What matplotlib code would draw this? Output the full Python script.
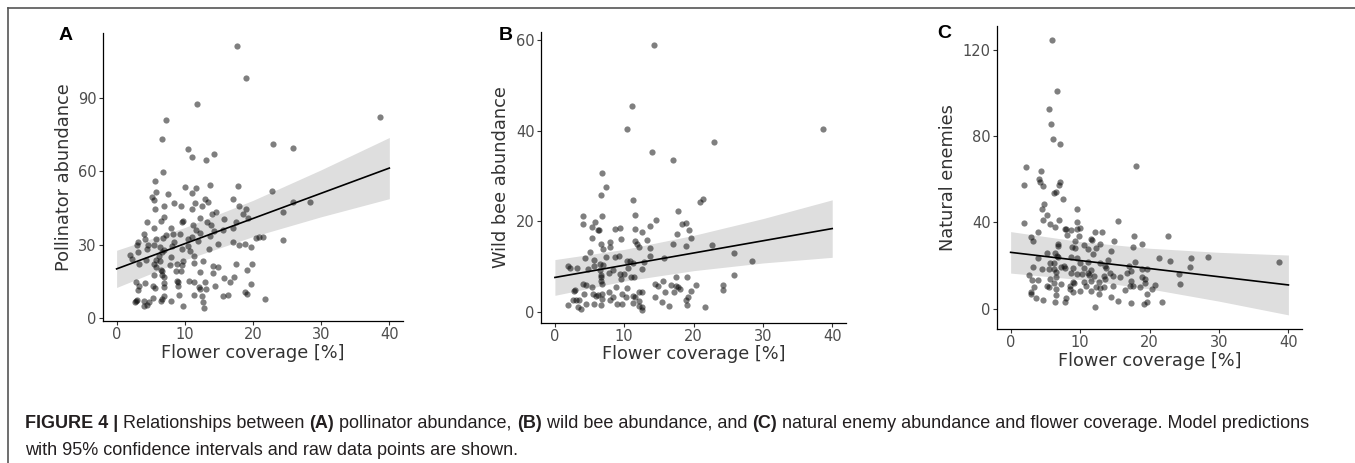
import matplotlib
matplotlib.use("Agg")
import matplotlib.pyplot as plt
from matplotlib.lines import Line2D

# ---- data ----
# (A) pollinator abundance
a_x = [17.6, 18.95, 11.8, 7.3, 38.7, 6.7, 23.0, 25.9, 10.4, 14.3, 11.1, 13.1, 6.8, 5.7,
       13.7, 17.8, 10.1, 11.6, 5.8, 22.8, 11.0, 7.5, 5.2, 12.9, 17.0, 5.5, 8.4, 11.5, 13.4,
       25.9, 28.4, 18.0, 6.9, 5.6, 9.4, 11.1, 19.0, 12.5, 14.6, 14.0, 24.4, 18.5, 4.4, 6.5,
       9.6, 9.8, 12.2, 15.7, 19.3, 6.9, 13.3, 17.5, 8.0, 5.5, 13.8, 17.1, 11.2, 4.0, 8.2,
       9.3, 11.6, 12.3, 15.6, 14.3, 13.7, 11.0, 4.1, 7.3, 3.2, 5.8, 6.8, 10.5, 11.9, 17.1,
       20.4, 20.9, 21.5, 24.4, 14.9, 18.8, 18.0, 4.6, 3.0, 5.5, 6.3, 8.1, 9.6, 10.5, 8.4,
       19.7, 13.6, 7.0, 4.4, 3.2, 6.6, 10.8, 6.2, 2.0, 2.2, 8.0, 11.3, 5.8, 9.7, 12.6, 4.3,
       3.3, 6.4, 5.5, 7.9, 8.9, 11.4, 17.5, 19.8, 14.2, 14.8, 9.6, 6.5, 5.8, 6.7, 6.7, 8.7,
       9.4, 14.1, 12.3, 5.5, 19.1, 6.9, 17.2, 15.7, 16.7, 2.9, 4.1, 8.8, 9.0, 10.6, 11.4,
       12.9, 6.9, 19.7, 3.3, 5.4, 9.0, 12.1, 14.5, 3.1, 5.6, 6.9, 12.3, 13.1, 18.9, 19.1,
       9.2, 11.3, 12.5, 15.6, 16.4, 5.4, 6.9, 2.8, 3.0, 4.0, 6.5, 8.0, 21.8, 2.7, 4.7, 12.6,
       4.5, 4.0, 9.8, 12.8, 6.7]
a_y = [111.1, 98.2, 87.3, 81.0, 82.1, 73.1, 71.1, 69.3, 69.0, 67.0, 65.8, 64.7, 59.6, 56.1,
       54.3, 53.8, 53.5, 53.1, 51.7, 51.9, 51.1, 50.5, 49.3, 48.6, 48.7, 48.3, 47.1, 47.1, 47.5,
       47.4, 47.4, 45.8, 45.8, 44.5, 46.0, 44.7, 44.4, 46.0, 43.4, 42.6, 43.2, 42.5, 39.2, 39.6,
       39.4, 39.8, 40.9, 40.6, 40.7, 41.5, 39.1, 39.1, 36.8, 36.8, 37.9, 37.0, 38.0, 34.3, 34.4,
       34.2, 36.1, 34.7, 35.9, 35.4, 33.6, 33.2, 32.5, 33.9, 31.0, 32.3, 32.7, 32.3, 31.3, 31.0,
       32.7, 33.1, 33.0, 32.0, 30.2, 30.2, 29.7, 29.7, 30.0, 30.0, 29.0, 29.3, 28.3, 29.3, 31.0,
       28.9, 28.2, 27.9, 28.3, 27.2, 27.0, 27.6, 25.2, 25.7, 24.2, 25.1, 25.5, 23.6, 23.4, 23.4,
       23.8, 22.2, 23.4, 22.1, 21.8, 22.1, 22.5, 22.2, 22.2, 21.1, 20.7, 21.7, 19.7, 20.7, 19.3,
       17.8, 19.1, 19.3, 18.4, 18.8, 17.7, 19.5, 16.6, 16.7, 16.5, 14.8, 14.6, 14.3, 15.3, 14.6,
       15.0, 14.6, 14.6, 14.2, 14.0, 12.9, 13.3, 12.9, 12.7, 13.3, 11.6, 12.1, 12.7, 11.8, 11.8,
       10.6, 9.9, 9.4, 9.3, 9.1, 9.1, 9.5, 8.4, 9.1, 7.1, 7.2, 7.1, 7.1, 6.8, 7.8, 6.4, 6.4,
       6.4, 5.3, 4.8, 4.8, 4.1, 7.8]

# (B) wild bee abundance
b_x = [14.3, 11.1, 10.4, 38.7, 23.0, 14.0, 17.0, 6.8, 7.3, 6.6, 21.4, 20.9, 11.2, 4.1, 6.8,
       11.6, 17.8, 14.6, 5.8, 4.0, 18.9, 18.4, 13.7, 5.4, 6.2, 6.4, 9.4, 8.6, 11.5, 12.5,
       19.3, 17.6, 9.6, 5.4, 19.6, 11.6, 13.3, 6.7, 8.0, 11.8, 17.0, 22.7, 18.9, 12.1, 13.7,
       6.9, 8.0, 5.1, 9.3, 7.3, 13.7, 8.7, 4.4, 15.7, 25.9, 28.4, 10.4, 10.8, 11.3, 12.9, 5.6,
       1.9, 2.2, 3.2, 5.6, 6.5, 7.0, 4.8, 6.5, 8.4, 9.4, 9.9, 10.6, 12.5, 6.6, 6.7, 7.8, 11.0,
       11.4, 9.5, 17.5, 19.0, 6.7, 6.8, 25.8, 4.0, 4.5, 5.4, 15.6, 14.4, 14.8, 16.7, 17.4,
       17.7, 20.3, 2.9, 8.8, 10.4, 18.1, 24.3, 24.3, 19.6, 2.8, 4.2, 5.5, 6.8, 7.8, 9.7, 12.2,
       12.6, 15.9, 17.2, 6.2, 5.9, 11.3, 11.5, 14.5, 19.2, 8.4, 10.2, 6.8, 2.6, 3.1, 3.5, 8.0,
       18.9, 12.2, 15.5, 4.5, 1.9, 5.7, 6.6, 8.9, 9.7, 11.3, 19.1, 16.4, 12.1, 3.3, 21.7, 3.7,
       12.6, 12.6]
b_y = [59.0, 45.4, 40.3, 40.3, 37.6, 35.4, 33.6, 30.6, 27.6, 25.8, 25.0, 24.2, 24.7, 21.1,
       21.1, 21.4, 22.2, 20.2, 19.9, 19.4, 19.7, 19.4, 18.9, 18.8, 18.0, 18.0, 18.6, 18.3, 18.3,
       17.6, 18.0, 17.2, 16.0, 16.4, 16.3, 15.7, 15.9, 14.9, 15.5, 14.9, 14.9, 14.7, 14.6, 14.4,
       14.1, 13.9, 14.4, 13.3, 12.4, 12.1, 12.4, 12.2, 11.8, 11.9, 13.0, 11.3, 11.2, 11.2, 10.7,
       11.0, 11.4, 10.1, 9.7, 9.7, 10.2, 10.5, 10.3, 9.5, 9.3, 9.2, 8.4, 8.3, 9.7, 9.5, 8.2,
       7.6, 8.6, 7.7, 7.7, 7.2, 7.7, 7.7, 6.8, 6.2, 8.2, 6.1, 6.0, 5.4, 6.8, 6.1, 5.8, 6.0,
       5.7, 5.5, 6.0, 4.9, 5.6, 5.2, 5.0, 5.9, 4.9, 4.6, 4.6, 4.0, 4.0, 4.0, 4.3, 4.0, 4.3,
       4.3, 4.3, 4.3, 3.7, 3.6, 3.5, 3.3, 3.3, 3.2, 3.3, 3.2, 2.9, 2.7, 2.6, 2.6, 2.7, 2.7,
       2.4, 2.1, 1.8, 1.6, 1.8, 1.6, 1.8, 1.8, 1.9, 1.6, 1.3, 1.3, 1.1, 1.0, 0.7, 0.5, 1.1]

# (C) natural enemies
c_x = [5.9, 6.7, 5.5, 5.8, 6.1, 7.1, 18.0, 2.2, 4.4, 4.1, 4.2, 7.1, 6.9, 1.9, 4.6, 6.6, 6.3,
       7.5, 4.8, 4.5, 9.5, 5.2, 15.5, 1.9, 4.7, 6.9, 9.6, 5.7, 6.4, 10.0, 7.8, 8.0, 8.7, 9.6,
       3.9, 12.1, 13.1, 22.7, 17.8, 8.1, 9.8, 11.6, 14.9, 9.3, 11.7, 2.9, 3.2, 6.8, 6.8, 10.6,
       12.9, 18.9, 11.2, 8.9, 9.2, 14.5, 12.3, 17.6, 5.3, 6.4, 11.8, 6.7, 6.8, 8.7, 9.6, 21.3,
       26.0, 28.4, 3.9, 14.0, 23.0, 38.7, 5.7, 6.3, 10.0, 11.2, 12.9, 17.9, 7.7, 7.2, 13.6,
       17.1, 9.0, 3.2, 7.9, 4.5, 5.5, 6.3, 10.5, 13.7, 19.7, 25.9, 18.9, 6.6, 11.6, 17.3, 8.7,
       9.5, 10.3, 11.1, 11.3, 14.3, 16.8, 24.3, 2.7, 13.5, 14.7, 15.7, 12.0, 5.6, 6.6, 18.9,
       19.3, 3.1, 3.9, 9.0, 9.1, 10.5, 11.6, 12.7, 13.6, 17.3, 19.3, 24.4, 6.3, 7.2, 5.3, 5.5,
       3.4, 8.5, 10.9, 12.3, 12.9, 13.4, 14.7, 20.8, 17.2, 17.6, 18.7, 6.5, 8.5, 10.0, 16.4,
       20.3, 9.0, 11.6, 3.0, 2.9, 12.7, 19.6, 6.6, 14.4, 3.7, 4.6, 8.0, 15.5, 6.4, 7.9, 17.4,
       19.2, 19.7, 21.8, 12.1]
c_y = [124.5, 101.0, 92.4, 85.3, 78.4, 76.4, 66.3, 65.6, 63.6, 60.0, 58.8, 58.8, 57.1, 57.5,
       56.6, 54.1, 53.7, 50.6, 48.7, 46.0, 46.4, 43.5, 40.4, 39.5, 41.0, 41.0, 40.3, 39.0, 37.9,
       37.6, 37.0, 36.7, 36.4, 36.7, 35.3, 35.3, 35.3, 33.6, 33.6, 33.9, 33.6, 32.4, 31.3, 31.3,
       31.8, 33.0, 31.5, 29.8, 29.0, 29.5, 30.1, 30.1, 27.6, 28.7, 27.9, 26.5, 27.9, 28.4, 25.9,
       25.9, 25.3, 24.4, 24.1, 24.1, 23.4, 23.6, 23.3, 23.8, 23.3, 22.5, 21.9, 21.4, 21.0, 21.0,
       21.3, 21.4, 21.3, 21.4, 19.9, 19.4, 19.7, 20.0, 18.7, 19.1, 18.8, 18.2, 18.2, 18.2, 18.7,
       18.7, 18.5, 19.1, 18.2, 17.1, 17.9, 17.6, 16.7, 16.0, 16.0, 16.4, 15.7, 16.7, 16.4, 15.9,
       15.6, 15.1, 15.0, 14.8, 15.1, 13.9, 14.8, 14.5, 13.9, 13.3, 13.3, 12.5, 12.0, 12.5, 13.0,
       12.5, 13.6, 13.0, 12.0, 11.4, 12.0, 11.4, 10.6, 9.9, 9.9, 10.6, 10.6, 10.2, 9.7, 9.9,
       10.5, 10.8, 10.5, 10.5, 9.9, 8.9, 8.9, 8.3, 8.5, 9.3, 7.6, 8.3, 7.6, 6.9, 6.8, 6.8, 6.3,
       5.4, 5.1, 4.2, 5.1, 3.4, 3.2, 2.9, 2.5, 2.3, 2.9, 2.9, 0.9]

# model predictions with 95% CI, read at these flower coverage values
fit_x = [0, 10, 20, 30, 40]
a_fit = [20.1, 30.4, 40.7, 51.0, 61.3]
a_lo = [12.5, 23.8, 33.3, 41.4, 48.8]
a_hi = [27.7, 37.0, 48.1, 60.6, 73.8]
b_fit = [7.6, 10.3, 13.0, 15.7, 18.4]
b_lo = [3.65, 6.8, 9.1, 10.8, 12.05]
b_hi = [11.55, 13.8, 16.9, 20.6, 24.75]
c_fit = [26.1, 22.3, 18.6, 14.8, 11.0]
c_lo = [16.5, 13.5, 9.2, 3.5, -2.85]
c_hi = [35.7, 31.1, 28.0, 26.1, 24.85]

x_ticks = [0, 10, 20, 30, 40]

W, H = 1355, 463

# letter, x, y, fit, lo, hi, y label, y ticks, y limits, axes rect, letter pos (px)
panels = [
    ("A", a_x, a_y, a_fit, a_lo, a_hi, "Pollinator abundance", [0, 30, 60, 90], (-1.2, 116.5),
     [0.0760, 0.3067, 0.2214, 0.6220], (73, 27)),
    ("B", b_x, b_y, b_fit, b_lo, b_hi, "Wild bee abundance", [0, 20, 40, 60], (-2.4, 61.9),
     [0.3993, 0.3030, 0.2251, 0.6285], (513, 27)),
    ("C", c_x, c_y, c_fit, c_lo, c_hi, "Natural enemies", [0, 40, 80, 120], (-9.4, 130.9),
     [0.7356, 0.2894, 0.2255, 0.6544], (951, 25)),
]

fig = plt.figure(figsize=(W / 100, H / 100), dpi=100)

for letter, px, py, fit, lo, hi, ylab, yt, ylim, rect, lpos in panels:
    ax = fig.add_axes(rect)
    ax.fill_between(fit_x, lo, hi, color="#dedede", lw=0, zorder=1)
    ax.scatter(px, py, s=20, color="black", alpha=0.5, lw=0, zorder=2)
    ax.plot(fit_x, fit, color="black", lw=1.2, zorder=3)
    ax.set_xlim(-2, 42)
    ax.set_ylim(*ylim)
    ax.set_xticks(x_ticks)
    ax.set_yticks(yt)
    for s in ["top", "right"]:
        ax.spines[s].set_visible(False)
    for s in ["left", "bottom"]:
        ax.spines[s].set_linewidth(0.9)
    ax.tick_params(labelsize=10.5, labelcolor="#4d4d4d", color="#333333",
                   length=3, width=0.8, pad=1.5)
    ax.set_xlabel("Flower coverage [%]", fontsize=12.8, color="#333333", labelpad=1)
    ax.set_ylabel(ylab, fontsize=12.8, color="#333333", labelpad=4)
    fig.text(lpos[0] / W, 1 - lpos[1] / H, letter, fontsize=14,
             fontweight="bold", family="Liberation Sans", ha="right", va="top")

# frame lines at top and left
fig.add_artist(Line2D([8 / W, 1], [1 - 8 / H, 1 - 8 / H], color="#555555", lw=1.2))
fig.add_artist(Line2D([8 / W, 8 / W], [0, 1 - 8 / H], color="#555555", lw=1.2))

# caption with bold pieces
cap = fig.add_axes([0, 0, 1, 1])
cap.axis("off")
cap.set_zorder(-1)
fs = 13
line1 = [("FIGURE 4 | ", "bold"), ("Relationships between ", "normal"), ("(A)", "bold"),
         (" pollinator abundance, ", "normal"), ("(B)", "bold"),
         (" wild bee abundance, and ", "normal"), ("(C)", "bold"),
         (" natural enemy abundance and flower coverage. Model predictions", "normal")]
prev = cap.text(25 / W, 1 - 432 / H, "", fontsize=fs, family="Liberation Sans",
                color="#231f20", va="baseline", transform=cap.transAxes)
for txt, w in line1:
    prev = cap.annotate(txt, xy=(1, 0), xycoords=prev, va="bottom", ha="left",
                        fontsize=fs, family="Liberation Sans", fontweight=w,
                        color="#231f20")
cap.text(25 / W, 1 - 455 / H, "with 95% confidence intervals and raw data points are shown.",
         fontsize=fs, family="Liberation Sans", color="#231f20", va="baseline",
         transform=cap.transAxes)

fig.savefig("out.png", dpi=100)
